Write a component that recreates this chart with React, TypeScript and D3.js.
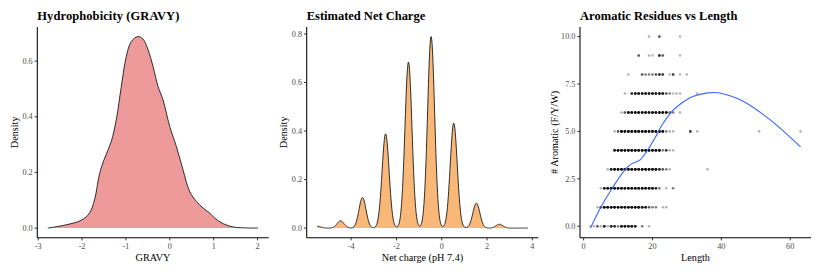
import React from "react";
import * as d3 from "d3";

// ---- Hydrophobicity (GRAVY) density
const gravyScore = [-2.78, -2.36, -2.02, -1.83, -1.715, -1.6, -1.486, -1.334, -1.22, -1.106, -0.992, -0.878, -0.725, -0.611, -0.497, -0.383, -0.269, -0.155, -0.002, 0.15, 0.302, 0.454, 0.606, 0.759, 0.911, 1.025, 1.215, 1.444, 1.672, 2.014];
const gravyDensity = [0.0, 0.012, 0.028, 0.054, 0.102, 0.196, 0.251, 0.311, 0.389, 0.508, 0.616, 0.67, 0.688, 0.679, 0.641, 0.581, 0.509, 0.461, 0.365, 0.293, 0.209, 0.131, 0.096, 0.072, 0.054, 0.036, 0.016, 0.004, 0.001, 0.0];
const gravyXTicks = [-3, -2, -1, 0, 1, 2];
const gravyYTicks = [0, 0.2, 0.4, 0.6];

// ---- Net charge: observed charge values and their share of proteins (kde stat below)
const chargeValues = [-5.5, -4.47, -3.5, -2.48, -1.47, -0.47, 0.53, 1.53, 2.55, 3.8];
const chargeShare = [0.003, 0.0117, 0.049, 0.151, 0.266, 0.307, 0.168, 0.04, 0.0062, 0.0002];
const chargeBandwidth = 0.155;
const chargeXTicks = [-4, -2, 0, 2, 4];
const chargeYTicks = [0, 0.2, 0.4, 0.6, 0.8];

// ---- Aromatic residues vs length: [length, number of proteins] per aromatic count
const aromatic0 = [[2, 1], [3, 1], [4, 3], [5, 1], [6, 6], [7, 1], [8, 6], [9, 5], [10, 2], [11, 7], [12, 7], [13, 7], [14, 7], [15, 6], [17, 2], [19, 1]];
const aromatic1 = [[4, 1], [5, 4], [6, 8], [7, 8], [8, 8], [9, 8], [10, 8], [11, 8], [12, 8], [13, 8], [14, 8], [15, 8], [16, 8], [17, 7], [18, 6], [19, 3], [20, 2], [21, 2], [23, 1], [24, 1]];
const aromatic2 = [[5, 1], [6, 6], [7, 8], [8, 8], [9, 8], [10, 8], [11, 8], [12, 8], [13, 8], [14, 8], [15, 8], [16, 8], [17, 8], [18, 8], [19, 8], [20, 8], [21, 5], [22, 2], [24, 1], [26, 2]];
const aromatic3 = [[7, 1], [8, 6], [9, 8], [10, 8], [11, 8], [12, 8], [13, 8], [14, 8], [15, 8], [16, 8], [17, 8], [18, 8], [19, 8], [20, 8], [21, 8], [22, 5], [23, 3], [24, 2], [25, 1], [36, 1]];
const aromatic4 = [[9, 6], [10, 8], [11, 8], [12, 8], [13, 8], [14, 8], [15, 8], [16, 8], [17, 8], [18, 8], [19, 8], [20, 8], [21, 8], [22, 8], [23, 2], [24, 4], [25, 1], [26, 1]];
const aromatic5 = [[9, 1], [10, 3], [11, 8], [12, 8], [13, 8], [14, 8], [15, 8], [16, 8], [17, 8], [18, 8], [19, 8], [20, 8], [21, 8], [22, 8], [23, 8], [24, 2], [25, 1], [26, 1], [31, 4], [33, 1], [51, 1], [63, 1]];
const aromatic6 = [[11, 1], [12, 3], [13, 8], [14, 8], [15, 8], [16, 8], [17, 8], [18, 8], [19, 8], [20, 8], [21, 8], [22, 8], [23, 8], [24, 8], [25, 3], [26, 2], [28, 1]];
const aromatic7 = [[12, 1], [14, 5], [15, 7], [16, 7], [17, 7], [18, 7], [19, 7], [20, 7], [21, 7], [22, 7], [23, 7], [24, 3], [25, 2], [26, 1], [27, 1], [28, 1], [33, 1]];
const aromatic8 = [[13, 1], [17, 3], [18, 2], [19, 2], [20, 2], [21, 3], [22, 5], [23, 4], [25, 1], [26, 4], [28, 1], [30, 1]];
const aromatic9 = [[16, 3], [19, 1], [20, 1], [22, 5], [23, 3], [28, 1]];
const aromatic10 = [[19, 1], [22, 3], [28, 1]];
const aromaticRows = [aromatic0, aromatic1, aromatic2, aromatic3, aromatic4, aromatic5, aromatic6, aromatic7, aromatic8, aromatic9, aromatic10];

// loess fit as drawn
const smoothLength = [2, 5, 8.3, 12.1, 14, 16.2, 18.2, 20.6, 23, 25.9, 28.8, 31.7, 35.6, 38.9, 42.3, 46.2, 54.4, 63];
const smoothAromatic = [-0.1, 1.0, 2.0, 3.0, 3.3, 3.47, 3.91, 4.61, 5.4, 6.1, 6.54, 6.84, 7.02, 7.04, 6.89, 6.6, 5.58, 4.18];
const aromaXTicks = [0, 20, 40, 60];
const aromaYTicks = [0, 2.5, 5, 7.5, 10];

const FONT = "'Liberation Serif', 'Times New Roman', serif";
const top = 27;
const bottom = 237.7;

// ggplot-like 5% expansion
const expand = (lo: number, hi: number): [number, number] => {
  const r = hi - lo;
  return [lo - r * 0.05, hi + r * 0.05];
};

function Frame({ x, y, xTicks, yTicks, xFmt, yFmt, title, titleWidth, xTitle, yTitle, yTitleX }: any) {
  const [left, right] = x.range();
  return (
    <g fontFamily={FONT}>
      <text x={left} y={19.5} fontSize={12.5} fontWeight="bold" fill="#000" textLength={titleWidth} lengthAdjust="spacing">{title}</text>
      <line x1={left} x2={left} y1={top} y2={bottom} stroke="#000" strokeWidth={1.05} />
      <line x1={left} x2={right} y1={bottom} y2={bottom} stroke="#000" strokeWidth={1.05} />
      {yTicks.map((t: number) => (
        <g key={"y" + t}>
          <line x1={left - 2.7} x2={left} y1={y(t)} y2={y(t)} stroke="#333" strokeWidth={1} />
          <text x={left - 4.6} y={y(t)} dy="0.33em" textAnchor="end" fontSize={8.2} fill="#4d4d4d">{yFmt(t)}</text>
        </g>
      ))}
      {xTicks.map((t: number) => (
        <g key={"x" + t}>
          <line x1={x(t)} x2={x(t)} y1={bottom} y2={bottom + 2.7} stroke="#333" strokeWidth={1} />
          <text x={x(t)} y={248.8} textAnchor="middle" fontSize={8.2} fill="#4d4d4d">{xFmt(t)}</text>
        </g>
      ))}
      <text x={(left + right) / 2} y={260.7} textAnchor="middle" fontSize={10.2} fill="#000">{xTitle}</text>
      <text transform={`translate(${yTitleX},${(top + bottom) / 2}) rotate(-90)`} textAnchor="middle" fontSize={10.2} fill="#000">{yTitle}</text>
    </g>
  );
}

function GravyPanel() {
  const x = d3.scaleLinear().domain(expand(d3.min(gravyScore)!, d3.max(gravyScore)!)).range([37.3, 268.7]);
  const y = d3.scaleLinear().domain(expand(0, d3.max(gravyDensity)!)).range([bottom, top]);
  const pts = gravyScore.map((g, i) => [g, gravyDensity[i]] as [number, number]);
  const area = d3.area<[number, number]>().x((d) => x(d[0])).y0(y(0)).y1((d) => y(d[1])).curve(d3.curveCatmullRom);
  const line = d3.line<[number, number]>().x((d) => x(d[0])).y((d) => y(d[1])).curve(d3.curveCatmullRom);
  return (
    <g>
      <path d={area(pts)!} fill="#ee9a9a" />
      <path d={line(pts)!} fill="none" stroke="#1a1a1a" strokeWidth={0.9} />
      <Frame x={x} y={y} xTicks={gravyXTicks} yTicks={gravyYTicks} xFmt={(t: number) => String(t)} yFmt={(t: number) => t.toFixed(1)}
        title="Hydrophobicity (GRAVY)" titleWidth={142} xTitle="GRAVY" yTitle="Density" yTitleX={17.5} />
    </g>
  );
}

function ChargePanel() {
  const lo = d3.min(chargeValues)!;
  const hi = d3.max(chargeValues)!;
  // gaussian kernel density over the observed charges (like stat_density)
  const grid = d3.range(512).map((i) => lo + (i * (hi - lo)) / 511);
  const norm = 1 / (chargeBandwidth * Math.sqrt(2 * Math.PI));
  const pts = grid.map((g) => {
    const dens = d3.sum(chargeValues, (c, i) => chargeShare[i] * norm * Math.exp(-0.5 * ((g - c) / chargeBandwidth) ** 2));
    return [g, dens] as [number, number];
  });
  const x = d3.scaleLinear().domain(expand(lo, hi)).range([306.7, 538.3]);
  const y = d3.scaleLinear().domain(expand(0, d3.max(pts, (d) => d[1])!)).range([bottom, top]);
  const area = d3.area<[number, number]>().x((d) => x(d[0])).y0(y(0)).y1((d) => y(d[1]));
  const line = d3.line<[number, number]>().x((d) => x(d[0])).y((d) => y(d[1]));
  return (
    <g>
      <path d={area(pts)!} fill="#f9b878" />
      <path d={line(pts)!} fill="none" stroke="#1a1a1a" strokeWidth={0.9} />
      <Frame x={x} y={y} xTicks={chargeXTicks} yTicks={chargeYTicks} xFmt={(t: number) => String(t)} yFmt={(t: number) => t.toFixed(1)}
        title="Estimated Net Charge" titleWidth={118.5} xTitle="Net charge (pH 7.4)" yTitle="Density" yTitleX={286.5} />
    </g>
  );
}

function AromaticPanel() {
  const allLengths = aromaticRows.flatMap((row) => row.map((d) => d[0]));
  const x = d3.scaleLinear().domain(expand(d3.min(allLengths)!, d3.max(allLengths)!)).range([580, 811]);
  const y = d3.scaleLinear().domain(expand(Math.min(0, d3.min(smoothAromatic)!), aromaticRows.length - 1)).range([bottom, top]);
  const dots: { l: number; a: number; k: string }[] = [];
  aromaticRows.forEach((row, a) => {
    row.forEach(([l, n]) => {
      for (let j = 0; j < n; j++) dots.push({ l, a, k: `${a}-${l}-${j}` });
    });
  });
  const smooth = smoothLength.map((l, i) => [l, smoothAromatic[i]] as [number, number]);
  const line = d3.line<[number, number]>().x((d) => x(d[0])).y((d) => y(d[1])).curve(d3.curveCatmullRom);
  return (
    <g>
      {dots.map((d) => (
        <circle key={d.k} cx={x(d.l)} cy={y(d.a)} r={1.3} fill="#000" fillOpacity={0.3} />
      ))}
      <path d={line(smooth)!} fill="none" stroke="#3366ff" strokeWidth={1.1} />
      <Frame x={x} y={y} xTicks={aromaXTicks} yTicks={aromaYTicks} xFmt={(t: number) => String(t)} yFmt={(t: number) => t.toFixed(1)}
        title="Aromatic Residues vs Length" titleWidth={157.5} xTitle="Length" yTitle="# Aromatic (F/Y/W)" yTitleX={558.3} />
    </g>
  );
}

export default function App() {
  return (
    <svg width={822} height={274} style={{ position: "absolute", left: 0, top: 0, background: "#fff" }}>
      <rect width={822} height={274} fill="#fff" />
      <GravyPanel />
      <ChargePanel />
      <AromaticPanel />
    </svg>
  );
}
